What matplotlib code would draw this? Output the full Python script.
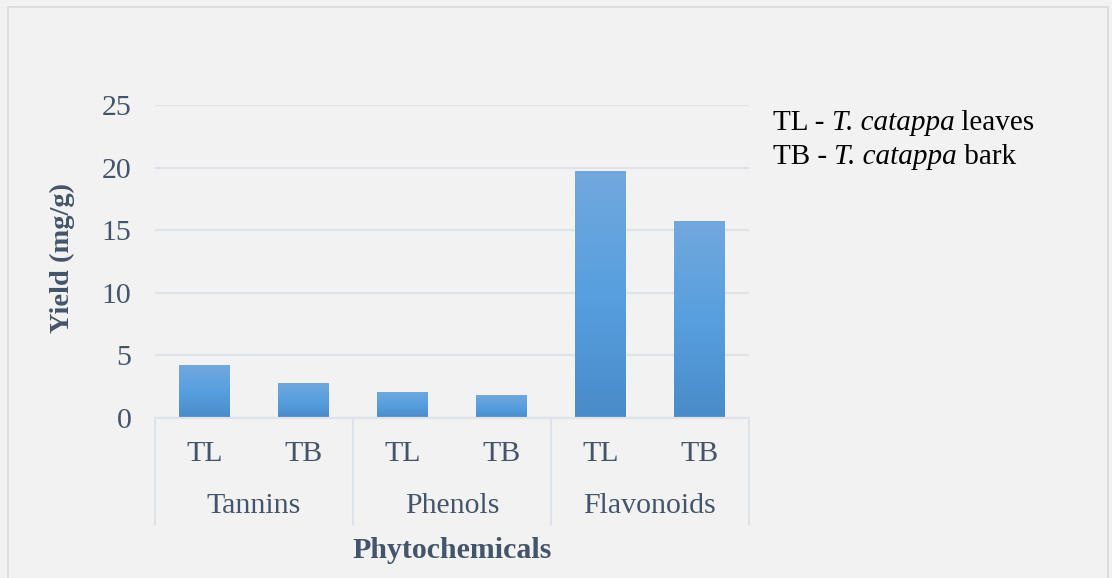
import numpy as np
import matplotlib.pyplot as plt
from matplotlib.colors import LinearSegmentedColormap
from matplotlib.patches import Rectangle

# yield of each phytochemical, leaves (TL) and bark (TB)
groups = ["Tannins", "Phenols", "Flavonoids"]
samples = ["TL", "TB"]
tl_yield = [4.2, 2.1, 19.7]
tb_yield = [2.8, 1.8, 15.7]
y_ticks = [0, 5, 10, 15, 20, 25]
key_parts = [("TL - ", "T. catappa", " leaves"),
             ("TB - ", "T. catappa", " bark")]

labels = []
values = []
for tl, tb in zip(tl_yield, tb_yield):
    labels += samples
    values += [tl, tb]

plt.rcParams["font.family"] = ["Liberation Serif", "DejaVu Serif"]

text_col = "#44546a"
grid_col = "#dfe3e8"
bg = "#f2f2f2"

fig = plt.figure(figsize=(11.12, 5.78), dpi=100, facecolor=bg)
fig.patches.append(Rectangle((8 / 1112, -0.02), 1100 / 1112, 1.02 - 7 / 578,
                             transform=fig.transFigure, fill=False,
                             edgecolor="#d9d9d9", linewidth=1.2))

ax = fig.add_axes([155 / 1112, 1 - 418 / 578, 594 / 1112, 313 / 578])
ax.set_facecolor(bg)

x = np.arange(len(values))
bars = ax.bar(x, values, width=0.515, color="#5b9bd5", zorder=2)

# vertical gradient on each bar
grad = LinearSegmentedColormap.from_list("bar", ["#4a8bc9", "#579fdf", "#72a8dd"])
g = np.linspace(0, 1, 256).reshape(-1, 1)
for b in bars:
    x0, w, h = b.get_x(), b.get_width(), b.get_height()
    im = ax.imshow(g, cmap=grad, origin="lower", aspect="auto",
                   extent=[x0, x0 + w, 0, h], zorder=3)
    im.set_clip_path(b)

ax.set_xlim(-0.5, len(values) - 0.5)
ax.set_ylim(0, 25)
ax.set_yticks(y_ticks)
ax.set_yticklabels([str(t) for t in y_ticks], fontsize=21.5, color=text_col)
ax.tick_params(axis="y", length=0, pad=17)
ax.set_xticks([])
ax.grid(axis="y", color=grid_col, linewidth=1.6, zorder=0)
for s in ["top", "right", "left"]:
    ax.spines[s].set_visible(False)
ax.spines["bottom"].set_color(grid_col)
ax.spines["bottom"].set_linewidth(1.6)
ax.spines["bottom"].set_zorder(4)

# two-level category axis
sep_depth = (524 - 418) / 313
for i in range(len(groups) + 1):
    xs = -0.5 + 2 * i
    ax.plot([xs, xs], [0, -sep_depth], transform=ax.get_xaxis_transform(),
            color=grid_col, linewidth=1.6, clip_on=False)
for xi, lab in zip(x, labels):
    ax.text(xi, -36 / 313, lab, transform=ax.get_xaxis_transform(),
            ha="center", va="center", fontsize=21.5, color=text_col)
for i, grp in enumerate(groups):
    ax.text(2 * i + 0.5, -88 / 313, grp, transform=ax.get_xaxis_transform(),
            ha="center", va="center", fontsize=21.5, color=text_col)

ax.text(0.5, -133 / 313, "Phytochemicals", transform=ax.transAxes,
        ha="center", va="center", fontsize=21.5, fontweight="bold", color=text_col)
fig.text(62 / 1112, 1 - 258 / 578, "Yield (mg/g)", rotation=90,
         ha="center", va="center", fontsize=20.5, fontweight="bold", color=text_col)

# key text: plain / italic species name / plain, chained one after another
for row, (pre, species, post) in enumerate(key_parts):
    y = 1 - (130 + 34 * row) / 578
    t1 = fig.text(773 / 1112, y, pre, ha="left", va="baseline",
                  fontsize=21, color="black")
    t2 = fig.text(0, 0, species, ha="left", va="baseline", fontsize=21,
                  style="italic", color="black")
    t3 = fig.text(0, 0, post, ha="left", va="baseline", fontsize=21,
                  color="black")
    fig.canvas.draw()
    r = fig.canvas.get_renderer()
    bb1 = t1.get_window_extent(r)
    t2.set_position((bb1.x1 / fig.bbox.width, y))
    bb2 = t2.get_window_extent(r)
    t3.set_position((bb2.x1 / fig.bbox.width, y))

fig.savefig("out.png", dpi=100, facecolor=bg)
